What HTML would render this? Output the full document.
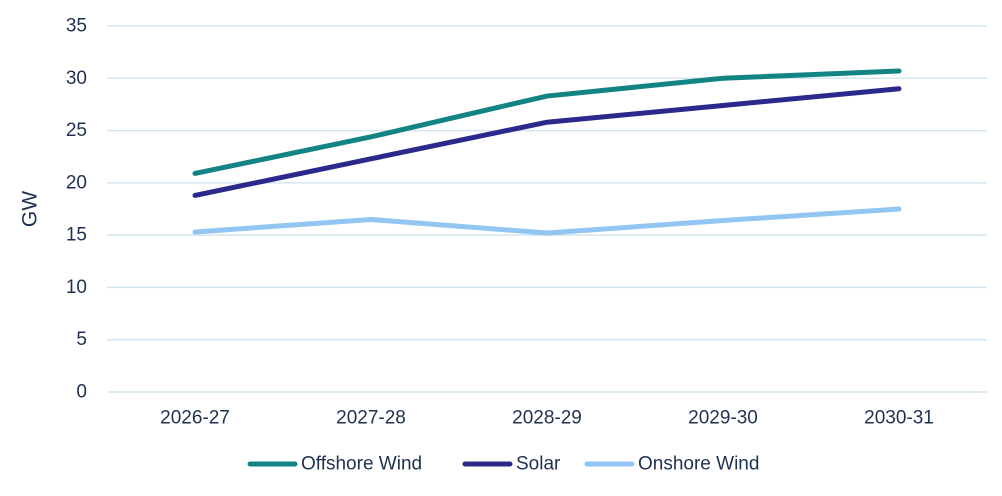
<!DOCTYPE html>
<html><head><meta charset="utf-8"><style>
body{margin:0;background:#fff;}
svg{display:block;font-family:"Liberation Sans",sans-serif;}
</style></head><body>
<svg id="chart" width="1002" height="496" viewBox="0 0 1002 496">
<g id="grid"></g>
<g id="yticks"></g>
<g id="xticks"></g>
<g id="series"></g>
<text transform="translate(30,209) rotate(-90)" text-anchor="middle" dominant-baseline="central" font-size="21" fill="#1f3150">GW</text>
<g id="legend"></g>
</svg>
<script>
const categories = ["2026-27","2027-28","2028-29","2029-30","2030-31"];
const offshore = [20.9, 24.4, 28.3, 30.0, 30.7];
const solar = [18.8, 22.3, 25.8, 27.4, 29.0];
const onshore = [15.3, 16.5, 15.2, 16.4, 17.5];
const yTicks = [0,5,10,15,20,25,30,35];
const seriesNames = ["Offshore Wind","Solar","Onshore Wind"];

const NS="http://www.w3.org/2000/svg";
const x0=107,x1=987,yb=392,yt=26,ymax=35;
const xs=i=>x0+(x1-x0)/categories.length*(i+0.5);
const ys=v=>yb-(yb-yt)*v/ymax;
function mk(t,a,p){const e=document.createElementNS(NS,t);for(const k in a)e.setAttribute(k,a[k]);p.appendChild(e);return e;}
const grid=document.getElementById('grid'),yt_=document.getElementById('yticks'),xt=document.getElementById('xticks'),sg=document.getElementById('series'),lg=document.getElementById('legend');
yTicks.forEach(v=>{
 const l=mk('line',{x1:x0,x2:x1,y1:ys(v),y2:ys(v),stroke:'#d3e6f1','stroke-width':1.5},grid);
 
 
 const t=mk('text',{x:87,y:ys(v),'text-anchor':'end','dominant-baseline':'central','font-size':19,fill:'#1f3150'},yt_);
 t.textContent=v;
 
 
});
categories.forEach((c,i)=>{
 const t=mk('text',{x:xs(i),y:418,'text-anchor':'middle','dominant-baseline':'central','font-size':19,fill:'#1f3150'},xt);
 t.textContent=c;
 
 
});
const data=[offshore,solar,onshore],cols=['#138484','#2b2a8c','#92c5f2'];
data.forEach((d,k)=>{
 const p=mk('polyline',{points:d.map((v,i)=>xs(i)+','+ys(v)).join(' '),fill:'none',stroke:cols[k],'stroke-width':5,'stroke-linecap':'round','stroke-linejoin':'round'},sg);
 
 
});
const lx=[250,465,587];
seriesNames.forEach((n,k)=>{
 const g=mk('g',{},lg);
 
 
 mk('line',{x1:lx[k],x2:lx[k]+45,y1:464,y2:464,stroke:cols[k],'stroke-width':5,'stroke-linecap':'round'},g);
 const t=mk('text',{x:lx[k]+51,y:464,'dominant-baseline':'central','font-size':19,fill:'#1f3150'},g);
 t.textContent=n;
});
</script>
</body></html>
